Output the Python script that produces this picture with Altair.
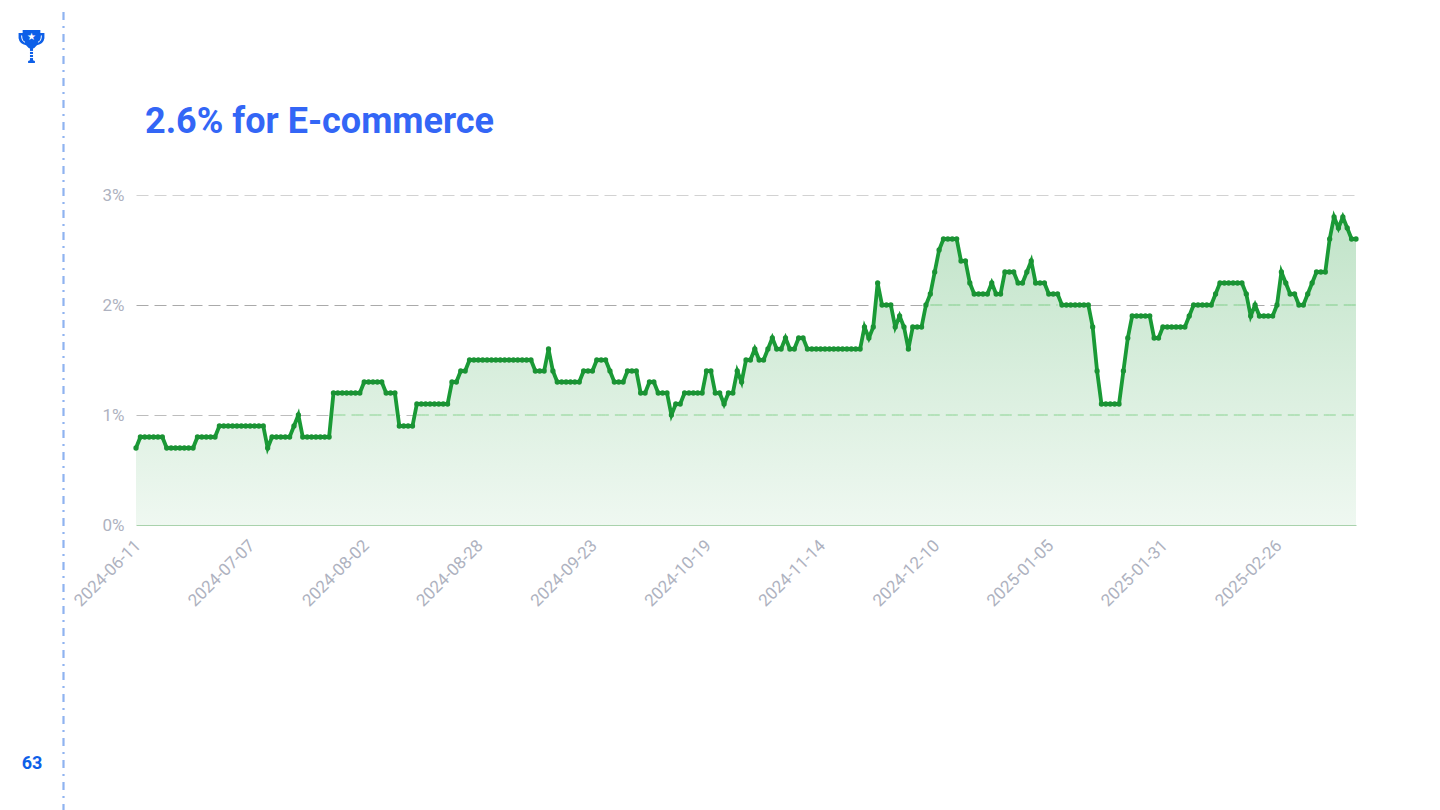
import altair as alt
import pandas as pd

# Daily share values (percent), 2024-06-11 to 2025-03-16
values_jun_jul = [0.7, 0.8, 0.8, 0.8, 0.8, 0.8, 0.8, 0.7, 0.7, 0.7, 0.7, 0.7, 0.7, 0.7,
                  0.8, 0.8, 0.8, 0.8, 0.8, 0.9, 0.9, 0.9, 0.9, 0.9, 0.9, 0.9, 0.9, 0.9, 0.9, 0.9,
                  0.7, 0.8, 0.8, 0.8, 0.8, 0.8, 0.9, 1.0, 0.8, 0.8, 0.8, 0.8, 0.8, 0.8, 0.8]
values_aug_sep = [1.2, 1.2, 1.2, 1.2, 1.2, 1.2, 1.2, 1.3, 1.3, 1.3, 1.3, 1.3, 1.2, 1.2, 1.2,
                  0.9, 0.9, 0.9, 0.9, 1.1, 1.1, 1.1, 1.1, 1.1, 1.1, 1.1, 1.1, 1.3, 1.3, 1.4, 1.4,
                  1.5, 1.5, 1.5, 1.5, 1.5, 1.5, 1.5, 1.5, 1.5, 1.5, 1.5, 1.5, 1.5, 1.5, 1.5,
                  1.4, 1.4, 1.4, 1.6, 1.4, 1.3, 1.3, 1.3, 1.3, 1.3, 1.3, 1.4, 1.4, 1.4, 1.5, 1.5, 1.5]
values_oct_nov = [1.4, 1.3, 1.3, 1.3, 1.4, 1.4, 1.4, 1.2, 1.2, 1.3, 1.3, 1.2, 1.2, 1.2, 1.0,
                  1.1, 1.1, 1.2, 1.2, 1.2, 1.2, 1.2, 1.4, 1.4, 1.2, 1.2, 1.1, 1.2, 1.2, 1.4, 1.3,
                  1.5, 1.5, 1.6, 1.5, 1.5, 1.6, 1.7, 1.6, 1.6, 1.7, 1.6, 1.6, 1.7, 1.7,
                  1.6, 1.6, 1.6, 1.6, 1.6, 1.6, 1.6, 1.6, 1.6, 1.6, 1.6, 1.6, 1.6,
                  1.8, 1.7, 1.8, 2.2, 2.0, 2.0, 2.0, 1.8, 1.9, 1.8, 1.6, 1.8, 1.8, 1.8]
values_dec_jan = [2.0, 2.1, 2.3, 2.5, 2.6, 2.6, 2.6, 2.6, 2.4, 2.4, 2.2, 2.1, 2.1, 2.1, 2.1,
                  2.2, 2.1, 2.1, 2.3, 2.3, 2.3, 2.2, 2.2, 2.3, 2.4, 2.2, 2.2, 2.2, 2.1, 2.1, 2.1,
                  2.0, 2.0, 2.0, 2.0, 2.0, 2.0, 2.0, 1.8, 1.4, 1.1, 1.1, 1.1, 1.1, 1.1, 1.4, 1.7]
values_feb_mar = [1.9, 1.9, 1.9, 1.9, 1.9, 1.7, 1.7, 1.8, 1.8, 1.8, 1.8, 1.8, 1.8, 1.9,
                  2.0, 2.0, 2.0, 2.0, 2.0, 2.1, 2.2, 2.2, 2.2, 2.2, 2.2, 2.2, 2.1, 1.9, 2.0,
                  1.9, 1.9, 1.9, 1.9, 2.0, 2.3, 2.2, 2.1, 2.1, 2.0, 2.0, 2.1, 2.2, 2.3, 2.3, 2.3,
                  2.6, 2.8, 2.7, 2.8, 2.7, 2.6, 2.6]
values = values_jun_jul + values_aug_sep + values_oct_nov + values_dec_jan + values_feb_mar

dates = [d.strftime("%Y-%m-%d") for d in pd.date_range("2024-06-11", periods=len(values))]
tick_labels = ["2024-06-11", "2024-07-07", "2024-08-02", "2024-08-28", "2024-09-23", "2024-10-19",
               "2024-11-14", "2024-12-10", "2025-01-05", "2025-01-31", "2025-02-26"]
y_ticks = [0, 1, 2, 3]
covered_ticks = [1, 2]
title_text = "2.6% for E-commerce"
page_number = "63"

BLUE_TITLE = "#3366f6"
BLUE_ICON = "#0d5fe8"
GREEN = "#1a9a36"
LABEL = "#aeb2c0"
FONT = "Roboto"

df = pd.DataFrame({"date": dates, "value": values})
one = alt.Data(values=[{"k": 1}])

# grid segments that lie under the area: same ticks, only where the series is above them
seg_rows = []
for tick in covered_ticks:
    run = 0
    prev = False
    for d, v in zip(dates, values):
        above = v > tick
        if above and not prev:
            run += 1
        if above:
            seg_rows.append({"date": d, "tick": tick, "seg": f"{tick}-{run}"})
        prev = above
seg_df = pd.DataFrame(seg_rows)

x_enc = alt.X("date:O", scale=alt.Scale(type="point", padding=0), title=None,
              axis=alt.Axis(values=tick_labels, labelAngle=315, labelAlign="right", labelBaseline="top",
                            labelColor=LABEL, labelFont=FONT, labelFontSize=17, labelFontWeight=400,
                            labelPadding=12, labelOffset=-4, ticks=False, domainColor="#a9d2ac", domainWidth=1,
                            labelOverlap=False, grid=False))
y_enc = alt.Y("value:Q", scale=alt.Scale(domain=[0, 3], nice=False), title=None,
              axis=alt.Axis(values=y_ticks, labelExpr="datum.value + '%'", labelColor=LABEL, labelFont=FONT,
                            labelFontSize=17, labelFontWeight=400, labelPadding=12, ticks=False, domain=False,
                            grid=True, gridDash=[12, 6], gridWidth=1,
                            gridColor={"condition": [{"test": "datum.value == 3", "value": "#d2d2d2"},
                                                     {"test": "datum.value == 1", "value": "#bdbdbd"},
                                                     {"test": "datum.value == 0", "value": "transparent"}],
                                       "value": "#aaaaaa"}))

mask = alt.Chart(df).mark_area(color="#ffffff", opacity=1).encode(x=x_enc, y=y_enc)
green_grid = alt.Chart(seg_df).mark_line(color="#9bdc9f", strokeWidth=1, strokeDash=[12, 6]).encode(
    x=alt.X("date:O"), y=alt.Y("tick:Q"), detail="seg:N")
area = alt.Chart(df).mark_area(
    line=False,
    color=alt.Gradient(gradient="linear", x1=0, x2=0, y1=0, y2=1,
                       stops=[alt.GradientStop(color="rgba(26,154,54,0.27)", offset=0),
                              alt.GradientStop(color="rgba(26,154,54,0.07)", offset=1)]),
).encode(x=alt.X("date:O"), y=alt.Y("value:Q"))

line = alt.Chart(df).mark_line(color=GREEN, strokeWidth=3.8, interpolate="linear").encode(
    x=alt.X("date:O"), y=alt.Y("value:Q"))
dots = alt.Chart(df).mark_point(color="#1a9334", filled=True, size=28, opacity=1).encode(
    x=alt.X("date:O"), y=alt.Y("value:Q"))

# page furniture (offsets are relative to the plot origin at page x=136, y=195)
rail = alt.Chart(one).mark_rule(color="#8fb3f0", strokeWidth=2.2, strokeDash=[8, 6, 2, 6]).encode(
    x=alt.value(-72.5), y=alt.value(-183), y2=alt.value(615))
title = alt.Chart(one).mark_text(text=title_text, font=FONT, fontSize=36, fontWeight="bold", color=BLUE_TITLE,
                                 align="left", baseline="alphabetic").encode(x=alt.value(9), y=alt.value(-62))
number = alt.Chart(one).mark_text(text=page_number, font=FONT, fontSize=18, fontWeight="bold", color=BLUE_ICON,
                                  align="center", baseline="alphabetic").encode(x=alt.value(-104), y=alt.value(574))

trophy_path = ("M-0.52,-0.94 L0.52,-0.94 L0.52,-0.76 L0.76,-0.76 L0.76,-0.45 Q0.7,-0.1 0.32,-0.05 "
               "Q0.18,0.12 0.09,0.14 L0.09,0.84 L0.2,0.88 L0.2,1 L-0.2,1 L-0.2,0.88 L-0.09,0.84 "
               "L-0.09,0.14 Q-0.18,0.12 -0.32,-0.05 Q-0.7,-0.1 -0.76,-0.45 L-0.76,-0.76 L-0.52,-0.76 Z")
trophy_cuts = ("M-0.58,-0.62 Q-0.58,-0.28 -0.38,-0.22 M0.58,-0.62 Q0.58,-0.28 0.38,-0.22 "
               "M-0.12,0.32 L0.12,0.32 M-0.12,0.5 L0.12,0.5 M-0.12,0.68 L0.12,0.68")
trophy = alt.Chart(one).mark_point(shape=trophy_path, filled=True, size=1156, color=BLUE_ICON, opacity=1).encode(
    x=alt.value(-104.5), y=alt.value(-149))
cuts = alt.Chart(one).mark_point(shape=trophy_cuts, filled=False, size=1156, color="#ffffff", strokeWidth=1,
                                 opacity=1).encode(x=alt.value(-104.5), y=alt.value(-149))
star = alt.Chart(one).mark_text(text="★", font="DejaVu Sans", fontSize=10, color="#ffffff", align="center",
                                baseline="middle").encode(x=alt.value(-104.5), y=alt.value(-158))

chart = alt.layer(mask, green_grid, area, line, dots, rail, title, number, trophy, cuts, star).resolve_scale(
    x="shared", y="shared"
).properties(
    width=1220, height=330,
    autosize=alt.AutoSizeParams(type="none"),
    padding={"left": 128, "top": 187, "right": 76, "bottom": 285},
    background="#ffffff",
).configure_view(stroke=None)

chart.save("out.html", embed_options={"renderer": "svg", "actions": False})
